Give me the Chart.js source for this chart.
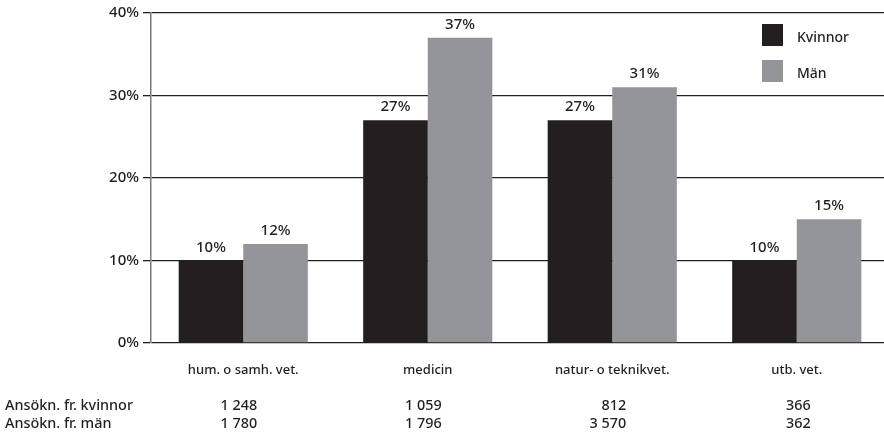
<!DOCTYPE html>
<html>
<head>
<meta charset="utf-8">
<script src="https://cdn.jsdelivr.net/npm/chart.js@4.4.1/dist/chart.umd.min.js"></script>
<style>
html,body{margin:0;padding:0;overflow:hidden;background:#fff;}
#wrap{position:relative;width:890px;height:436px;}
</style>
</head>
<body>
<div id="wrap"><canvas id="c"></canvas></div>
<script>
const categories = ["hum. o samh. vet.", "medicin", "natur- o teknikvet.", "utb. vet."];
const kvinnor = [10, 27, 27, 10];
const man = [12, 37, 31, 15];
const seriesNames = ["Kvinnor", "Män"];
const yTicks = [0, 10, 20, 30, 40];
const rowLabels = ["Ansökn. fr. kvinnor", "Ansökn. fr. män"];
const ansoknKvinnor = ["1 248", "1 059", "812", "366"];
const ansoknMan = ["1 780", "1 796", "3 570", "362"];

const FONT = "'Noto Sans', 'DejaVu Sans', sans-serif";
const DARK = "#231f20";
const GREY = "#939598";

const labelPlugin = {
  id: 'labels',
  afterDatasetsDraw(chart) {
    const ctx = chart.ctx;
    ctx.save();
    ctx.fillStyle = DARK;
    ctx.font = "500 15px " + FONT;
    ctx.textAlign = "center";
    ctx.textBaseline = "alphabetic";
    chart.data.datasets.forEach((ds, di) => {
      chart.getDatasetMeta(di).data.forEach((bar, i) => {
        ctx.fillText(ds.data[i] + "%", bar.x, bar.y - 9);
      });
    });
    ctx.restore();
  },
  afterDraw(chart) {
    const ctx = chart.ctx;
    const xs = chart.scales.x;
    ctx.save();
    ctx.fillStyle = DARK;
    ctx.font = "500 14.4px " + FONT;
    ctx.textBaseline = "middle";
    ctx.textAlign = "left";
    const rowsY = [406, 424];
    ctx.fillText(rowLabels[0], 5, rowsY[0]);
    ctx.fillText(rowLabels[1], 5, rowsY[1]);
    ctx.textAlign = "right";
    [ansoknKvinnor, ansoknMan].forEach((row, r) => {
      row.forEach((v, i) => {
        ctx.fillText(v, xs.getPixelForValue(i) + 14, rowsY[r]);
      });
    });
    // legend
    const items = chart.data.datasets;
    ctx.textAlign = "left";
    ctx.font = "500 14px " + FONT;
    items.forEach((ds, i) => {
      const y = 24 + i * 36;
      ctx.fillStyle = ds.backgroundColor;
      ctx.fillRect(762, y, 21, 22);
      ctx.fillStyle = DARK;
      ctx.fillText(ds.label, 797, y + 14);
    });
    ctx.restore();
  }
};

new Chart(document.getElementById('c'), {
  type: 'bar',
  data: {
    labels: categories,
    datasets: [
      { label: seriesNames[0], data: kvinnor, backgroundColor: DARK },
      { label: seriesNames[1], data: man, backgroundColor: GREY }
    ]
  },
  options: {
    responsive: true,
    maintainAspectRatio: false,
    animation: false,
    events: [],
    layout: { padding: { top: 12, right: 1, left: 0, bottom: 0 } },
    datasets: { bar: { categoryPercentage: 0.7, barPercentage: 1.0 } },
    plugins: { legend: { display: false }, tooltip: { enabled: false } },
    scales: {
      x: {
        grid: { display: false, drawTicks: false },
        border: { display: false },
        ticks: { color: DARK, font: { family: FONT, size: 13, weight: 500 }, padding: 19 },
        afterFit(s) { s.height = 93; }
      },
      y: {
        min: 0, max: 40,
        afterBuildTicks(s) { s.ticks = yTicks.map(v => ({ value: v })); },
        afterFit(s) { s.width = 151; },
        grid: { color: DARK, lineWidth: 1.3, tickLength: 8, drawTicks: true },
        border: { display: true, color: "#7a7a7a", width: 1.5 },
        ticks: { color: DARK, font: { family: FONT, size: 15, weight: 500 }, padding: 4, callback: v => v + "%" }
      }
    }
  },
  plugins: [labelPlugin]
});
</script>
</body>
</html>
